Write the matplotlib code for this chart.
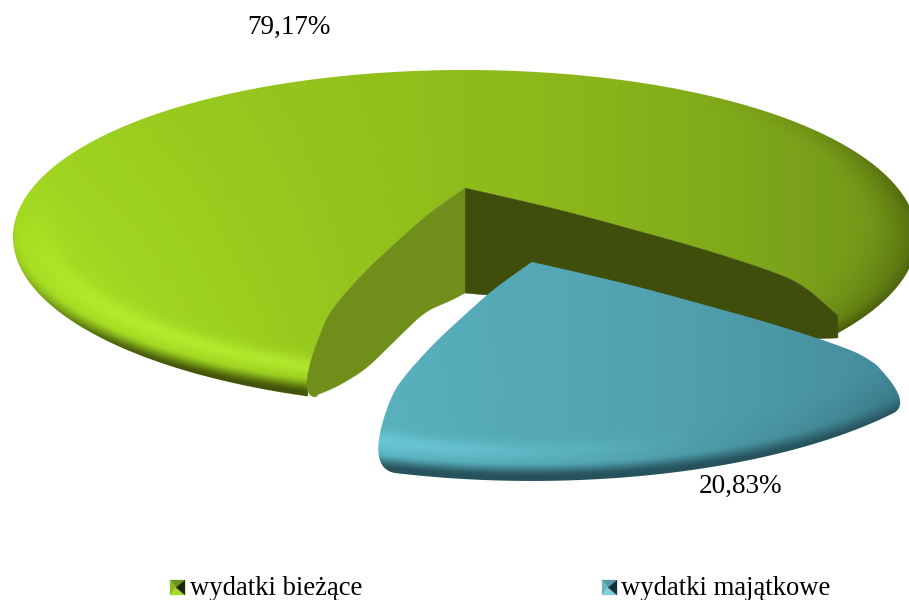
import numpy as np
import matplotlib
matplotlib.use("Agg")
import matplotlib.pyplot as plt
from matplotlib.patches import Polygon

categories = ["wydatki bieżące", "wydatki majątkowe"]
values = [79.17, 20.83]

W, H = 909, 600
plt.rcParams['font.family'] = ['Liberation Serif', 'DejaVu Serif']
fig = plt.figure(figsize=(W / 100, H / 100), dpi=100)
ax = fig.add_axes([0, 0, 1, 1])
ax.set_xlim(0, W)
ax.set_ylim(H, 0)
ax.axis("off")

# projection of the tilted pie
CX, CY = 465.0, 188.0
A, B, K = 435.6, 149.5, 0.267
RIM = 15.0
WALL_R = np.array([0, .1, .32, .7, .88, 1.0])
WALL_D = np.array([105, 97, 74, 59, 38, 16.0])
LIFT_R = np.array([0, .32, .7, .88, .96, 1.0])
LIFT_H = np.array([0, 21, 40, 44, 38, 10.0])
FORESHORTEN = 0.79
START = -46.3
EXPLODE = (67.0, 74.0)
NPTS = 240


def smooth(a, n=18):
    p = np.pad(a, n, mode="reflect", reflect_type="odd")
    return np.convolve(p, np.ones(2 * n + 1) / (2 * n + 1), "valid")


def project(x, y, ox=0.0, oy=0.0):
    w = 1.0 / (1.0 + K * y)
    return CX + ox + A * x * w, CY + oy - B * y * w


def rim_point(deg, ox=0.0, oy=0.0):
    t = np.radians(deg)
    X, Y = project(np.cos(t), np.sin(t), ox, oy)
    return X, Y + RIM * ((1 - np.sin(t)) / 2) ** 2


def cut(deg, scale, ox=0.0, oy=0.0):
    rho = np.linspace(0, 1, NPTS)
    t = np.radians(deg)
    X, Y = project(rho * np.cos(t), rho * np.sin(t), ox, oy)
    lift = smooth(np.interp(rho, LIFT_R, LIFT_H) * scale)
    return X, Y - lift, Y, rho


def bezier(p0, c, p1, n=24):
    s = np.linspace(0, 1, n)[:, None]
    p0, c, p1 = map(np.asarray, (p0, c, p1))
    return (1 - s) ** 2 * p0 + 2 * s * (1 - s) * c + s ** 2 * p1


def shade(ox, oy, left, mid, right, dark, hi, hi_reach=1.15):
    XX, YY = np.meshgrid(np.arange(W) + .5, np.arange(H) + .5)
    dx = (XX - CX - ox) / A
    dy = (CY + oy - YY) / B
    y = dy / (1 - K * dy)
    x = dx * (1 + K * y)
    r = np.hypot(x, y)
    sn = y / np.maximum(r, 1e-6)
    cs = x / np.maximum(r, 1e-6)
    front = np.clip(-sn, 0, 1)
    side = np.clip(cs, 0, 1)
    u = np.clip((XX - ox - 13) / 900, 0, 1)
    v = np.clip((YY - oy - 70) / 330, 0, 1)
    left, mid, right, dark, hi = [np.array(c, float)[None, None, :] / 255
                                  for c in (left, mid, right, dark, hi)]
    wl = (np.clip(1 - 2 * u, 0, 1) * (.45 + .55 * v))[..., None]
    wr = (np.clip(2 * u - 1, 0, 1) ** 1.4)[..., None]
    img = mid + (left - mid) * wl + (right - mid) * wr
    # highlight just inside the front edge
    g = np.exp(-((r - .945) / .035) ** 2) * front ** 1.2 * np.clip(hi_reach - 1.3 * u, 0, 1)
    img = img + (hi - img) * g[..., None]
    # darkening on the right shoulder
    s = np.clip((r - .86) / .14, 0, 1) ** 2 * side ** 2 * .7 * np.clip(1 - np.maximum(sn, 0) * 1.3, 0, 1)
    img = img + (dark - img) * s[..., None]
    # underside of the rounded rim
    t = np.clip((r - .985) / .055, 0, 1)
    t = t * t * (3 - 2 * t) * np.clip(front * 1.25 + side * .7 * np.clip(1 + sn * -1.5, 0, 1), 0, 1)
    img = img + (dark - img) * t[..., None]
    return np.clip(img, 0, 1)


def green_path(a1, a2):
    """Apex, right cut, rim the long way round the back, left cut; ends hidden by the walls."""
    x1, y1, _, _ = cut(a1, 0.62)
    x2, y2, _, _ = cut(a2, 1.0)
    xr, yr = rim_point(np.linspace(a1, a2, 900))
    return np.column_stack([np.r_[x1, xr, x2[::-1]], np.r_[y1, yr, y2[::-1]]])


def blue_path(a1, a2, ox, oy):
    """Front wedge with rounded rim corners."""
    x1, y1, _, rho = cut(a1, 0.62, ox, oy)
    x2, y2, _, _ = cut(a2, 1.0, ox, oy)
    keep = rho < .94
    ang = np.linspace(a1 - 2.5, a2 + 2.0, 400)
    xr, yr = rim_point(ang, ox, oy)
    start = np.column_stack([x1[keep], y1[keep]])
    end = np.column_stack([x2[keep], y2[keep]])
    return np.vstack([
        start,
        bezier(start[-1], (x1[-1] + 10, y1[-1] + 15), (xr[0], yr[0])),
        np.column_stack([xr, yr]),
        bezier((xr[-1], yr[-1]), (x2[-1] - 9, y2[-1] + 21), end[-1]),
        end[::-1],
    ])


def wall(deg, scale, color, rounded=False):
    X, Ytop, Y, rho = cut(deg, scale)
    d = smooth(np.interp(rho, WALL_R, WALL_D))
    Ybot = Y + d
    if rounded:
        keep = rho < .93
        low = rho < .95
        cap = bezier((X[keep][-1], Ytop[keep][-1]), (X[-1] - 13, Y[-1] + 15),
                     (X[-1] + 8, Y[-1] + 15))
        xy = np.vstack([np.column_stack([X[keep], Ytop[keep]]), cap,
                        np.column_stack([X[low][::-1], Ybot[low][::-1]])])
    else:
        xy = np.column_stack([np.r_[X, X[::-1]], np.r_[Ytop, Ybot[::-1]]])
    ax.add_patch(Polygon(xy, closed=True, fc=color, ec=color, lw=.3, zorder=2))


sweep = values[1] / sum(values) * 360 * FORESHORTEN
a_right = START
a_left = START - sweep

# green wedge: long way round the back
green = shade(0, 0, (172, 232, 36), (143, 188, 27), (112, 148, 24), (66, 84, 10), (185, 242, 50))
im = ax.imshow(green, extent=(0, W, H, 0), zorder=1, interpolation="bilinear", aspect="auto")
im.set_clip_path(Polygon(green_path(a_right, a_left + 360), closed=True, transform=ax.transData))

wall(a_right, 0.62, "#3f4f0b")
wall(a_left, 1.0, "#6f8f1a", rounded=True)

# blue wedge, pulled out
ox, oy = EXPLODE
blue = shade(ox, oy, (100, 200, 210), (85, 168, 182), (62, 130, 146), (38, 82, 92), (122, 226, 236), hi_reach=.9)
im2 = ax.imshow(blue, extent=(0, W, H, 0), zorder=3, interpolation="bilinear", aspect="auto")
im2.set_clip_path(Polygon(blue_path(a_right, a_left, ox, oy), closed=True, transform=ax.transData))
ax.set_xlim(0, W)
ax.set_ylim(H, 0)

fmt = lambda v: f"{v:.2f}".replace(".", ",") + "%"
ax.text(288.5, 27, fmt(values[0]), fontsize=19.5, ha="center", va="center", color="black", zorder=5)
ax.text(740.5, 486, fmt(values[1]), fontsize=19.5, ha="center", va="center", color="black", zorder=5)


def key(x, y, s, top, lft, bot, rgt):
    c = (x + s * .4, y + s / 2)
    tl, tr, br, bl = (x, y), (x + s, y), (x + s, y + s), (x, y + s)
    for pts, col in (([tl, tr, c], top), ([tl, bl, c], lft), ([bl, br, c], bot), ([tr, br, c], rgt)):
        ax.add_patch(Polygon(pts, closed=True, fc=col, ec=col, lw=.2, zorder=5))


key(170, 580, 15, "#6f9420", "#8fb825", "#a4dc2c", "#1c2606")
key(602, 580, 15, "#5a9aa8", "#6bb4c0", "#7fd0da", "#12323a")
ax.text(190, 588.5, categories[0], fontsize=19.2, ha="left", va="center", color="black", zorder=5)
ax.text(621, 588.5, categories[1], fontsize=19.2, ha="left", va="center", color="black", zorder=5)

fig.savefig("out.png", dpi=100, facecolor="white")
